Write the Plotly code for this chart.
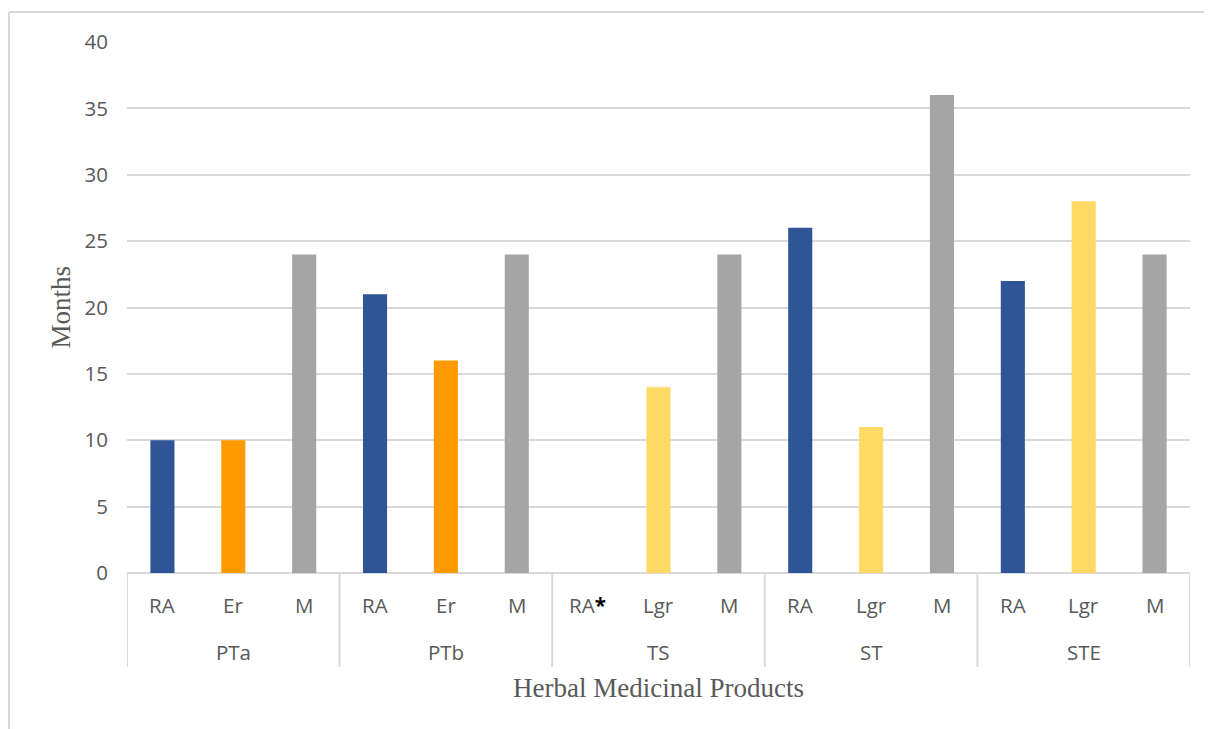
import plotly.graph_objects as go

groups = ["PTa", "PTb", "TS", "ST", "STE"]
sub_labels = [["RA", "Er", "M"], ["RA", "Er", "M"], ["RA*", "Lgr", "M"], ["RA", "Lgr", "M"], ["RA", "Lgr", "M"]]
values = [[10, 10, 24], [21, 16, 24], [None, 14, 24], [26, 11, 36], [22, 28, 24]]
y_ticks = [0, 5, 10, 15, 20, 25, 30, 35, 40]
colors_map = {"RA": "#2F5597", "RA*": "#2F5597", "Er": "#FF9A00", "Lgr": "#FFD966", "M": "#A5A5A5"}

xs, ys, cols, labels = [], [], [], []
i = 0
for g, subs, vals in zip(groups, sub_labels, values):
    for s, v in zip(subs, vals):
        xs.append(i)
        ys.append(v)
        cols.append(colors_map[s])
        labels.append(s)
        i += 1

# page body adds an 8px offset; compensate
W, H = 1204, 721
L, R, T, B = 119, 22, 34, 156
pw = W - L - R
ph = H - T - B

fig = go.Figure()
fig.add_trace(go.Bar(x=xs, y=ys, marker=dict(color=cols, line=dict(width=0)), width=0.34,
                     showlegend=False, hoverinfo="y"))

tick_font = dict(family="Open Sans, Liberation Sans, sans-serif", size=20.5, color="#595959")
serif = dict(family="Liberation Serif, Times New Roman, serif", size=27, color="#595959")

annotations = []
for x, lab in zip(xs, labels):
    text = lab if lab != "RA*" else 'RA<span style="color:black"><b>*</b></span>'
    annotations.append(dict(x=x, y=0, xref="x", yref="paper", text=text, showarrow=False,
                            yanchor="middle", yshift=-32, font=tick_font))
for gi, g in enumerate(groups):
    annotations.append(dict(x=gi * 3 + 1, y=0, xref="x", yref="paper", text=g, showarrow=False,
                            yanchor="middle", yshift=-79, font=tick_font))
annotations.append(dict(x=0.5, y=0, xref="paper", yref="paper", text="Herbal Medicinal Products",
                        showarrow=False, yanchor="middle", yshift=-115, font=serif))
annotations.append(dict(x=0, y=0.5, xref="paper", yref="paper", text="Months", textangle=-90,
                        showarrow=False, xanchor="center", xshift=-67, font=serif))

shapes = []
for gi in range(len(groups) + 1):
    xb = gi * 3 - 0.5
    shapes.append(dict(type="line", xref="x", yref="paper", x0=xb, x1=xb,
                       ysizemode="pixel", yanchor=0, y0=0, y1=-94,
                       line=dict(color="#D9D9D9", width=2)))
# outer border (top and left edges)
top_y = (H - B - 4) / ph
left_x = (1 - L) / pw
shapes.append(dict(type="line", xref="paper", yref="paper",
                   x0=left_x, x1=(W + 5 - L) / pw, y0=top_y, y1=top_y,
                   line=dict(color="#D9D9D9", width=2)))
shapes.append(dict(type="line", xref="paper", yref="paper",
                   x0=left_x, x1=left_x, y0=top_y, y1=-(B + 10) / ph,
                   line=dict(color="#D9D9D9", width=2)))

fig.update_layout(
    width=W, height=H,
    margin=dict(l=L, r=R, t=T, b=B),
    plot_bgcolor="white", paper_bgcolor="white",
    xaxis=dict(range=[-0.5, 14.5], showticklabels=False, showgrid=False, zeroline=False,
               showline=False, ticks=""),
    yaxis=dict(range=[0, 40], tickvals=y_ticks, showgrid=True, gridcolor="#D9D9D9", gridwidth=1.5,
               zeroline=True, zerolinecolor="#D9D9D9", zerolinewidth=2, showline=False,
               ticks="", tickfont=tick_font, ticklabelstandoff=18),
    annotations=annotations,
    shapes=shapes,
    bargap=0.66,
)

fig.write_html("out.html")
